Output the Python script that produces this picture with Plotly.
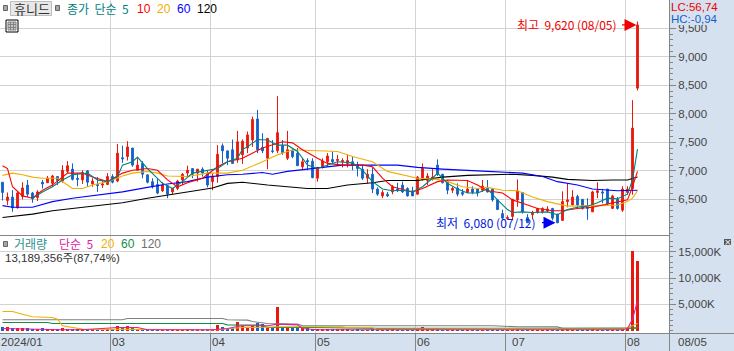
import plotly.graph_objects as go

W, H = 734, 351
PLOT_W, PLOT_H = 669, 333

# ---------- OHLC values (won) ----------
open_ = [6800,6480,6540,6350,6550,6750,6610,6530,6800,6790,6780,6900,6820,6990,7030,6870,6840,7000,6770,6760,
         6750,6760,6900,6820,7230,7250,7400,7010,7130,6930,6810,6760,6650,6740,6630,6690,6840,6960,7040,6960,
         7030,6960,6810,6900,7440,7350,7370,7190,7280,7400,7540,7910,7410,7220,7350,7350,7440,7220,7350,7310,
         7070,7180,7170,6870,7060,7160,7200,7180,7160,7130,7160,7110,7030,6870,6940,6680,6560,6590,6630,6680,
         6750,6690,6650,6590,6850,6830,6850,7100,6940,6810,6660,6700,6620,6620,6680,6680,6660,6710,6680,6490,
         6250,6160,6200,6490,6620,6180,6230,6270,6280,6300,6340,6240,6130,6460,6400,6550,6500,6370,6280,6620,
         6630,6680,6340,6500,6310,6620,6690,8450]
high = [6800,6620,6660,6630,6800,6840,6630,6660,6840,6910,6930,6900,7100,7170,7130,6960,7010,7010,6870,6890,
        6840,6960,6940,7470,7440,7520,7400,7220,7170,6930,6870,6870,6800,6740,6700,6840,6960,7090,7040,7030,
        7060,7010,6960,7450,7480,7350,7550,7700,7550,7690,7950,8070,7660,7570,7540,8310,7540,7700,7400,7400,
        7220,7220,7220,7060,7220,7310,7340,7280,7220,7280,7250,7160,7100,7030,7060,6710,6660,6630,6750,6790,
        6810,6710,6720,6910,7130,6960,7030,7200,6940,6840,6720,6780,6680,6830,6730,6690,6840,6840,6690,6490,
        6320,6220,6500,6850,6620,6240,6300,6350,6360,6380,6350,6240,6640,6780,6660,6580,6500,6520,6650,6800,
        6680,6680,6580,6540,6730,6730,8240,9620]
low = [6480,6400,6280,6340,6500,6540,6440,6470,6690,6790,6730,6750,6790,6960,6830,6730,6770,6720,6720,6630,
       6700,6750,6780,6800,7140,7180,7070,7010,6870,6780,6690,6590,6630,6520,6590,6660,6750,6890,6870,6810,
       6900,6710,6660,6790,7130,7100,7120,7140,7120,7310,7420,7310,7310,7030,7310,7310,7280,7190,7220,7090,
       7010,7010,6870,6810,7040,7070,7130,7120,7060,7060,7010,6900,6840,6780,6610,6560,6520,6540,6590,6630,
       6610,6550,6560,6580,6830,6750,6830,6910,6780,6590,6610,6550,6560,6610,6590,6550,6630,6620,6460,6320,
       6150,6140,6140,6370,6250,6090,6150,6250,6250,6270,6130,6080,6130,6360,6400,6340,6320,6140,6280,6520,
       6430,6400,6340,6320,6280,6580,6580,8410]
close = [6620,6540,6350,6610,6700,6590,6510,6630,6770,6870,6910,6830,7010,7090,6850,6850,6970,6800,6820,6740,
         6770,6900,6800,7310,7210,7420,7100,7100,6940,6800,6720,6610,6750,6590,6690,6820,6940,7010,6940,7030,
         6960,6750,6910,7290,7350,7220,7130,7510,7520,7630,7900,7370,7350,7570,7340,7670,7320,7370,7250,7090,
         7160,7160,6880,7060,7170,7260,7160,7200,7180,7180,7100,7040,6870,6940,6680,6590,6620,6560,6720,6650,
         6630,6560,6560,6890,7040,6910,6890,6940,6790,6660,6690,6590,6590,6680,6620,6610,6730,6630,6490,6320,
         6170,6180,6500,6650,6280,6090,6270,6340,6340,6330,6170,6090,6460,6490,6540,6400,6340,6340,6630,6650,
         6610,6420,6560,6340,6680,6680,7750,9560]

# ---------- price moving averages: (session index) ----------
ma5_idx = [6,8,10,12,14,17,19,21,23,24,26,27,29,31,32,34,36,38,40,43,45,47,48,49,51,53,55,57,59,61,63,65,67,70,72,
           74,76,78,80,82,84,86,87,89,91,93,95,97,99,101,102,104,106,109,111,113,115,117,119,121,123,125,126,127]
ma5_val = [6520,6630,6720,6840,6930,6960,6840,6810,6900,7100,7160,7240,7040,6870,6780,6690,6810,6960,6990,7040,7160,
           7220,7380,7420,7550,7540,7450,7450,7340,7100,7040,7100,7160,7140,7010,6810,6680,6650,6660,6630,6720,6870,
           6960,6780,6680,6610,6610,6680,6490,6320,6270,6280,6270,6280,6230,6320,6360,6380,6440,6520,6510,6590,6840,7380]
ma10_idx = [0,1,2,4,6,8,10,13,16,18,21,24,26,29,31,33,35,37,40,43,45,48,52,54,56,58,60,63,65,68,72,74,76,78,80,82,84,
            87,89,93,95,97,100,102,104,107,110,112,115,118,120,123,125,126,127]
ma10_val = [7090,7040,6720,6560,6520,6660,6750,6960,6960,6890,6810,6960,7010,7040,7010,6840,6720,6790,6870,7070,7160,
            7220,7400,7450,7510,7490,7370,7220,7130,7100,7100,7070,6870,6720,6680,6630,6690,6810,6840,6830,6750,6650,
            6610,6490,6430,6340,6300,6300,6340,6360,6400,6460,6490,6720,6990]
ma20_idx = [0,2,4,6,8,11,13,14,16,18,21,24,26,29,31,33,37,41,45,48,52,55,58,63,67,70,74,77,80,83,87,89,92,95,97,100,
            103,106,109,113,120,123,125,126,127]
ma20_val = [6920,6960,6930,6890,6870,6870,6750,6690,6690,6750,6810,6910,6960,6990,6960,6910,6900,6960,6960,7010,7160,
            7280,7370,7350,7340,7250,7160,6990,6930,6870,6850,6810,6720,6690,6710,6660,6650,6540,6460,6380,6390,6400,
            6460,6520,6650]
ma60_idx = [0,2,6,10,14,20,24,29,33,37,41,45,48,52,54,57,61,65,68,73,79,83,88,97,102,104,108,111,115,118,123,127]
ma60_val = [6390,6360,6360,6460,6520,6580,6630,6710,6770,6810,6890,6930,6940,6970,6940,6990,7030,7070,7100,7100,7100,
            7060,7030,6990,6970,6960,6900,6810,6750,6680,6650,6660]
ma120_idx = [0,6,10,14,20,24,29,34,40,42,45,48,53,57,61,65,69,74,77,83,88,93,97,102,106,110,113,118,122,125,127]
ma120_val = [6180,6240,6300,6340,6390,6440,6520,6590,6680,6700,6780,6800,6750,6720,6690,6690,6750,6790,6830,6830,6890,
             6920,6930,6940,6920,6890,6850,6830,6840,6840,6890]

# ---------- volume (thousand shares) ----------
volume = [630,630,440,560,560,440,200,250,440,300,250,200,500,350,250,200,300,250,200,150,
          150,250,200,1000,700,900,650,300,350,250,200,300,250,200,150,200,300,300,250,200,
          200,350,300,1100,800,400,500,1650,850,800,1000,1450,1250,440,500,4500,440,450,440,440,
          630,500,300,300,250,250,200,250,200,200,150,200,150,150,200,150,150,150,200,150,
          150,150,150,300,700,250,200,250,150,150,120,150,120,150,120,120,150,150,120,120,
          120,120,150,200,150,150,120,120,120,120,150,120,200,200,150,150,120,120,200,150,
          120,150,150,120,250,180,15100,13189]
vol5_idx = [0,5,12,16,23,27,29,42,45,47,48,51,53,55,59,60,63,97,124,125,126,127]
vol5_val = [440,300,200,200,630,630,190,190,440,820,950,950,950,1260,1130,440,190,190,190,440,2200,5670]
vol20_idx = [0,2,4,6,10,11,12,14,16,43,45,48,51,55,68,69,74,75,124,125,126,127]
vol20_val = [3650,3650,3150,2650,2520,2200,950,630,310,190,310,630,630,760,760,570,570,310,310,600,950,1390]
vol60_idx = [0,9,10,44,45,52,53,62,75,125,126,127]
vol60_val = [1580,1580,1390,1390,1130,1070,630,630,450,440,450,500]
vol120_idx = [0,24,25,44,45,49,50,52,53,59,60,98,103,111,112,125,126,127]
vol120_val = [2080,2080,2330,2330,2080,2020,1760,1580,1390,1260,950,950,760,760,440,440,500,630]

# ---------- axes ----------
month_pos = [21.6, 41.6, 62.6, 82.6, 100.6, 124.6]
month_labels = ["03", "04", "05", "06", "07", "08"]
price_ticks = [6500, 7000, 7500, 8000, 8500, 9000, 9500]
price_text = ["6,500", "7,000", "7,500", "8,000", "8,500", "9,000", "9,500"]
vol_ticks = [5000, 10000, 15000]
vol_text = ["5,000K", "10,000K", "15,000K"]

RED, BLUE = "#E8190C", "#1560C8"
GRID, AXIS, STRIP = "#D3D3D3", "#858585", "#D5E1EF"
FONT = "Noto Sans CJK KR"
LATIN = "Liberation Sans, Noto Sans CJK KR"
TXT = "#444444"
NB = "\u00a0\u00a0"


def X(p):
    return p / PLOT_W


def Y(p):
    return 1 - p / PLOT_H


fig = go.Figure()
fig.add_trace(go.Candlestick(
    x=list(range(len(close))), open=open_, high=high, low=low, close=close,
    xaxis="x2", yaxis="y2", whiskerwidth=0, hoverinfo="skip",
    increasing=dict(line=dict(color=RED, width=1), fillcolor=RED),
    decreasing=dict(line=dict(color=BLUE, width=1), fillcolor=BLUE),
))
for xs, ys, c in [(ma120_idx, ma120_val, "#000000"), (ma60_idx, ma60_val, "#0000FF"),
                  (ma20_idx, ma20_val, "#F0B000"), (ma10_idx, ma10_val, "#FF0000"),
                  (ma5_idx, ma5_val, "#008080")]:
    fig.add_trace(go.Scatter(x=xs, y=ys, mode="lines", xaxis="x2", yaxis="y2",
                             line=dict(color=c, width=1.1), hoverinfo="skip"))

fig.add_trace(go.Bar(x=list(range(len(volume))), y=volume, width=0.62,
                     marker=dict(color=[RED if c >= o else BLUE for o, c in zip(open_, close)], line=dict(width=0)),
                     hoverinfo="skip"))
for xs, ys, c in [(vol120_idx, vol120_val, "#808080"), (vol60_idx, vol60_val, "#109040"),
                  (vol20_idx, vol20_val, "#F0B000"), (vol5_idx, vol5_val, "#E020A0")]:
    fig.add_trace(go.Scatter(x=xs, y=ys, mode="lines", line=dict(color=c, width=1.1), hoverinfo="skip"))

xcommon = dict(range=[-0.5, 133.3], tickmode="array", tickvals=month_pos, showgrid=True, gridcolor=GRID,
               gridwidth=1, zeroline=False, showline=False)
ycommon = dict(side="right", showgrid=True, gridcolor=GRID, gridwidth=1, zeroline=False, showline=True,
               linecolor=AXIS, linewidth=1, mirror=False, ticks="outside", ticklen=6, tickcolor=AXIS,
               tickfont=dict(family="Liberation Sans", size=11.5, color=TXT), tickmode="array")

fig.update_layout(
    width=W, height=H, margin=dict(l=0, r=65, t=0, b=18), autosize=False,
    paper_bgcolor=STRIP, plot_bgcolor="#FFFFFF", showlegend=False, bargap=0,
    boxgap=0.5, boxmode="overlay", hovermode=False,
    font=dict(family=FONT, size=12, color=TXT),
    xaxis=dict(xcommon, domain=[0, 1], anchor="y", showticklabels=False, ticks="outside", ticklen=18,
               tickcolor=AXIS, tickwidth=1),
    xaxis2=dict(xcommon, domain=[0, 1], anchor="y2", showticklabels=False, ticks="", matches="x",
                rangeslider=dict(visible=False)),
    yaxis=dict(ycommon, domain=[0, 97 / PLOT_H], range=[-417, 17955], tickvals=vol_ticks, ticktext=vol_text,
               minor=dict(dtick=1000, ticklen=3, ticks="outside", tickcolor=AXIS, showgrid=False)),
    yaxis2=dict(ycommon, domain=[98 / PLOT_H, 1], range=[5874, 9997], tickvals=price_ticks, ticktext=price_text,
                minor=dict(dtick=100, ticklen=3, ticks="outside", tickcolor=AXIS, showgrid=False)),
)

shapes = []


def rect(x0, y0, x1, y1, fill, line=None, lw=1):
    shapes.append(dict(type="rect", xref="paper", yref="paper", x0=X(x0), x1=X(x1), y0=Y(y0), y1=Y(y1),
                       fillcolor=fill, line=dict(color=line or fill, width=lw if line else 0), layer="above"))


def hline(x0, x1, y, color, lw=1):
    shapes.append(dict(type="line", xref="paper", yref="paper", x0=X(x0), x1=X(x1), y0=Y(y), y1=Y(y),
                       line=dict(color=color, width=lw), layer="above"))


def vline(x, y0, y1, color, lw=1):
    shapes.append(dict(type="line", xref="paper", yref="paper", x0=X(x), x1=X(x), y0=Y(y0), y1=Y(y1),
                       line=dict(color=color, width=lw), layer="above"))


hline(0, 669.5, 235.5, AXIS)
hline(0, 734, 333.5, AXIS)
vline(669.5, 0, 351, AXIS)
rect(670, 0, 734, 25, STRIP)
# legend bullets and button
for bx, by in [(3.5, 5.5), (55.5, 5.5), (3.5, 241.5)]:
    rect(bx, by, bx + 4, by + 5, "#A6A6A6", "#666666")
rect(10.5, 1.5, 51.5, 15.5, "#E8E8E8", "#BDBDBD")
# table icon
rect(6, 20, 18, 32, "#FFFFFF", "#000000")
rect(8, 22, 16, 30, "#C8C8C8", "#808080")
for gx in (10.5, 13.5):
    vline(gx, 22, 30, "#808080")
for gy in (24.5, 27.5):
    hline(8, 16, gy, "#808080")
# close button
rect(724, 239, 731, 245, "#555555")
fig.update_layout(shapes=shapes)

ann = []


def text(x, y, s, color, size=12, family=FONT, anchor="left"):
    ann.append(dict(xref="paper", yref="paper", x=X(x), y=Y(y), text=s, showarrow=False, xanchor=anchor,
                    yanchor="middle", font=dict(family=family, size=size, color=color),
                    borderpad=0, borderwidth=0))


text(14, 8.5, "휴니드", "#333333", 13)
text(67, 8.5, f"종가 단순{NB}5".replace(" ", NB), "#008080", 12)
text(137, 8.5, "10", "#FF0000", 12, LATIN)
text(157, 8.5, "20", "#F0B000", 12, LATIN)
text(177, 8.5, "60", "#0000FF", 12, LATIN)
text(197, 8.5, "120", "#000000", 12, LATIN)
text(14, 243.5, "거래량", "#2E9090", 12)
text(59, 243.5, f"단순{NB}5", "#E020A0", 12)
text(101, 243.5, "20", "#F0B000", 12, LATIN)
text(121, 243.5, "60", "#109040", 12, LATIN)
text(141, 243.5, "120", "#707070", 12, LATIN)
text(5, 258, "13,189,356주(87,74%)", "#333333", 11.5, LATIN)
text(671, 7, "LC:56,74", "#F00000", 11.5, "Liberation Sans")
text(671, 19.5, "HC:-0,94", BLUE, 11.5, "Liberation Sans")
text(517, 24, f"최고{NB}9,620 (08/05)", "#F00000", 12)
text(436, 222, f"최저{NB}6,080 (07/12)", "#0020E0", 12)
text(1, 342, "2024/01", TXT, 11.5, "Liberation Sans")
for lbl, px_ in zip(month_labels, [112, 212, 317, 417, 512, 627]):
    text(px_, 342, lbl, TXT, 11.5, "Liberation Sans")
text(678, 342, "08/05", TXT, 11.5, "Liberation Sans")
text(727.5, 242, "×", "#FFFFFF", 9, "DejaVu Sans", "center")

# arrows for the high and low
ann.append(dict(xref="x2", yref="y2", x=126.8, y=9560, ax=-16, ay=0, axref="pixel", ayref="pixel", text="",
                showarrow=True, arrowhead=2, arrowsize=2, arrowwidth=1.2, arrowcolor="#F00000"))
ann.append(dict(xref="x2", yref="y2", x=110.6, y=6090, ax=-15, ay=0, axref="pixel", ayref="pixel", text="",
                showarrow=True, arrowhead=2, arrowsize=2, arrowwidth=1.2, arrowcolor="#0000F0"))
fig.update_layout(annotations=ann)

fig.write_html("out.html", config=dict(displayModeBar=False),
               post_script="document.body.style.margin='0';document.body.style.overflow='hidden';")
